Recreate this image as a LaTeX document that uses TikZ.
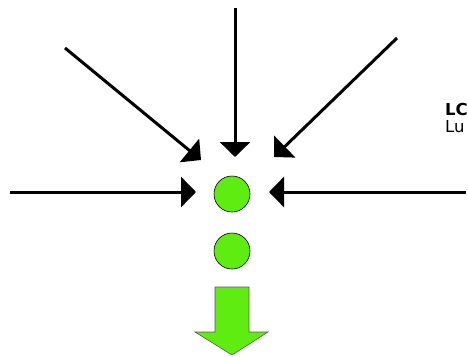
\documentclass[tikz,border=0pt]{standalone}
\usepackage{fontspec}
\setmainfont{DejaVu Sans}
\usetikzlibrary{arrows.meta}
\definecolor{lime}{HTML}{5FEC10}
\tikzset{
  inarrow/.style={line width=3pt, -{Triangle[length=15pt,width=30pt]}},
  dot/.style={circle, draw=black, line width=0.6pt, fill=lime, minimum size=36pt, inner sep=0pt},
  lbl/.style={anchor=north west, inner sep=0pt, align=left, font=\fontsize{16.5}{17.5}\selectfont}
}
\begin{document}
\begin{tikzpicture}[x=1pt,y=-1pt]
\useasboundingbox (0,0) rectangle (468,356);
\clip (0,0) rectangle (468,356);
\node[dot] (c1) at (232,194) {};
\node[dot] (c2) at (232,251) {};
\coordinate (t) at (235,8);
\coordinate (tl) at (65,48);
\coordinate (tr) at (397,38);
\coordinate (l) at (10,192);
\coordinate (r) at (466,192);
\coordinate (et) at (235,157);
\coordinate (etl) at (201,160);
\coordinate (etr) at (274,157);
\coordinate (el) at (196,192);
\coordinate (er) at (269,192);
\draw[inarrow] (t) -- (et);
\draw[inarrow] (tl) -- (etl);
\draw[inarrow] (tr) -- (etr);
\draw[inarrow] (l) -- (el);
\draw[inarrow] (r) -- (er);
\draw[fill=lime, draw=gray!70!black, line width=0.6pt]
  (215,287) -- (249,287) -- (249,332) -- (268,332) -- (232,355) -- (195,332) -- (215,332) -- cycle;
\node[lbl] (txt) at (445,103) {\textbf{LC}\\Lu};
\end{tikzpicture}
\end{document}
